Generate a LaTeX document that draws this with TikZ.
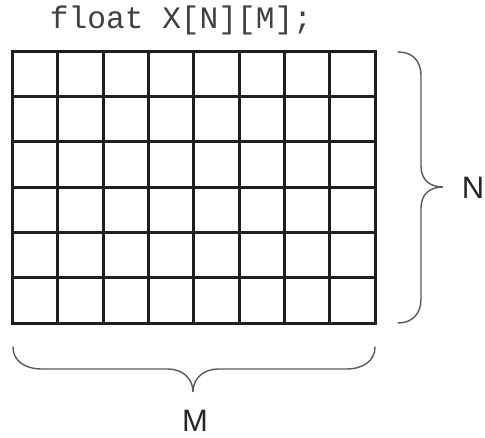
\documentclass[tikz,border=0pt]{standalone}
\usepackage{fontspec}
\setmainfont{Liberation Sans}
\newfontfamily\codefont{Liberation Mono}
\begin{document}
\begin{tikzpicture}[x=1pt,y=-1pt,
  gridline/.style={line width=3pt,color=black!88},
  bracepath/.style={line width=1.4pt,color=black!65,line cap=round},
  dimlabel/.style={font=\fontsize{31}{31}\selectfont,text=black!85,inner sep=0pt},
  codelabel/.style={font=\codefont\fontsize{31.2}{31.2}\selectfont,text=black!75,inner sep=0pt,anchor=base}]
\useasboundingbox (0,0) rectangle (485,437);
% grid corners
\coordinate (tl) at (12.5,51);
\coordinate (br) at (375,323);
\foreach \i in {0,...,8} {
  \draw[gridline] ({12.5+\i*45.3125},51) -- ({12.5+\i*45.3125},323);
}
\foreach \j in {0,...,6} {
  \draw[gridline] (11,{51+\j*45.333}) -- (376.5,{51+\j*45.333});
}
\node[codelabel] (code) at (181,28) {float X[N][M];};
% right brace
\coordinate (rtop) at (398,52);
\coordinate (rtip) at (443,187);
\coordinate (rbot) at (398,323);
\draw[bracepath] (rtop) .. controls (412,52) and (421,60) .. (421,76) -- (421,166)
  .. controls (421,180) and (430,187) .. (rtip)
  .. controls (430,187) and (421,194) .. (421,208) -- (421,299)
  .. controls (421,314) and (412,323) .. (rbot);
\node[dimlabel] (N) at (473,188) {N};
% bottom brace
\coordinate (bl) at (13,347);
\coordinate (btip) at (193,392);
\coordinate (brr) at (375,347);
\draw[bracepath] (bl) .. controls (13,361) and (25,369) .. (42,369) -- (168,369)
  .. controls (182,369) and (193,378) .. (btip)
  .. controls (193,378) and (204,369) .. (218,369) -- (346,369)
  .. controls (363,369) and (375,361) .. (brr);
\node[dimlabel] (M) at (195,421) {M};
\end{tikzpicture}
\end{document}
